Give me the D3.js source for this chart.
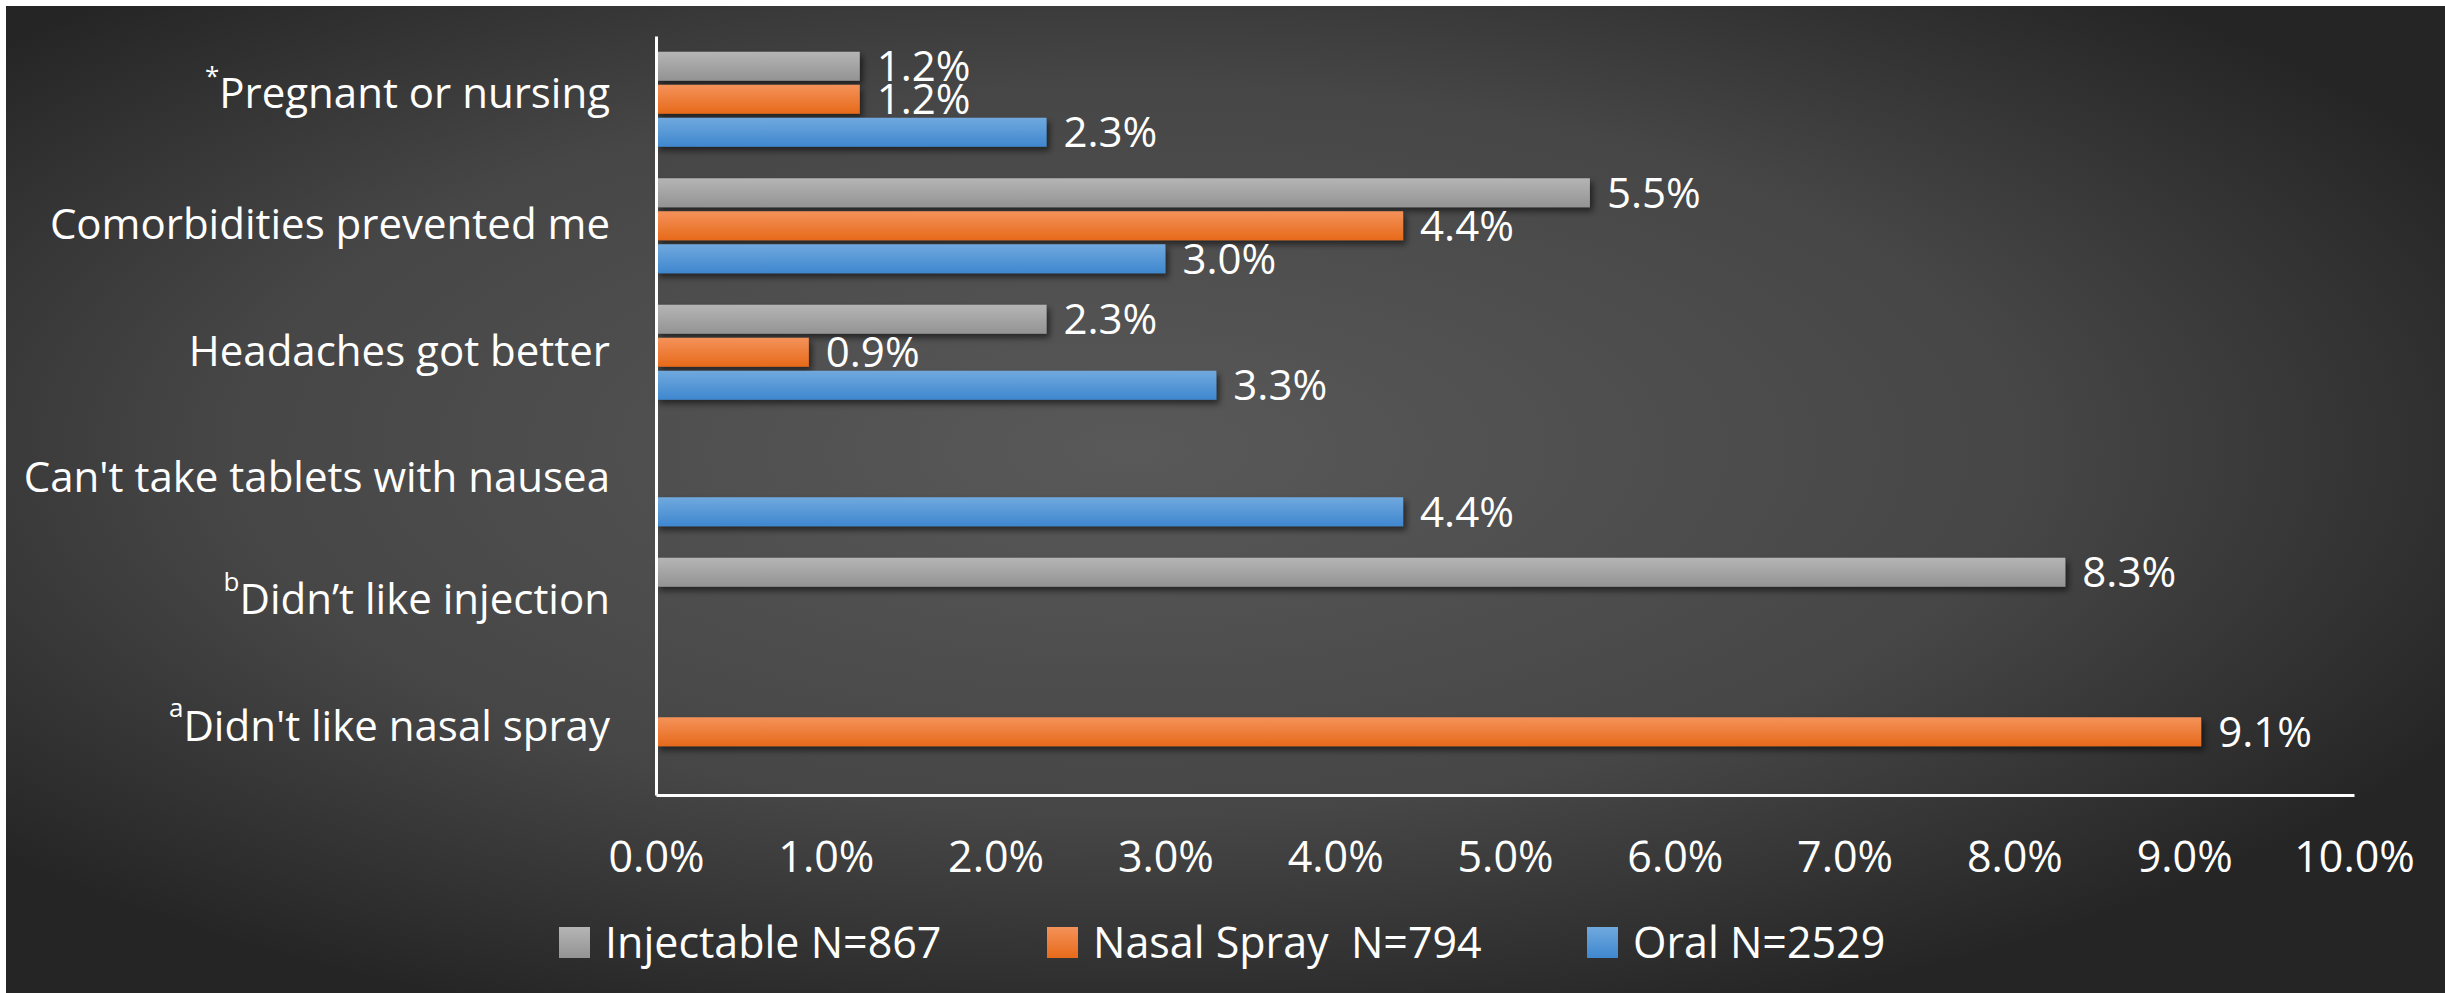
<!DOCTYPE html>
<html>
<head>
<meta charset="utf-8">
<script src="https://cdn.jsdelivr.net/npm/d3@7"></script>
<style>
  html, body { margin: 0; padding: 0; background: #fff; }
  svg { display: block; }
  text { font-family: "Open Sans", sans-serif; fill: #fff; }
</style>
</head>
<body>
<div id="chart"></div>
<script>
// categories from top to bottom, with their footnote marks
const categories = [
  "Pregnant or nursing",
  "Comorbidities prevented me",
  "Headaches got better",
  "Can't take tablets with nausea",
  "Didn\u2019t like injection",
  "Didn't like nasal spray"
];
const footnotes = ["*", "", "", "", "b", "a"];

const seriesNames = ["Injectable N=867", "Nasal Spray  N=794", "Oral N=2529"];

// percent values per category (null = no bar)
const injectable = [0.012, 0.055, 0.023, null, 0.083, null];
const nasalSpray = [0.012, 0.044, 0.009, null, null, 0.091];
const oral       = [0.023, 0.030, 0.033, 0.044, null, null];

const xTicks = [0, 0.01, 0.02, 0.03, 0.04, 0.05, 0.06, 0.07, 0.08, 0.09, 0.10];

const W = 2445, H = 993;
const plot = { left: 656, right: 2354, top: 36, bottom: 795 };
const legendLeft = [559, 1047, 1587];

const svg = d3.select("#chart").append("svg")
  .attr("width", W)
  .attr("height", H);

const defs = svg.append("defs");

// dark radial background
const bg = defs.append("radialGradient")
  .attr("id", "bg")
  .attr("cx", 0.46).attr("cy", 0.45).attr("r", 0.62);
bg.append("stop").attr("offset", "0%").attr("stop-color", "#595959");
bg.append("stop").attr("offset", "60%").attr("stop-color", "#464646");
bg.append("stop").attr("offset", "100%").attr("stop-color", "#252525");

const colors = [
  { id: "gGrey", top: "#b5b5b5", bottom: "#939393" },
  { id: "gOrange", top: "#f4925a", bottom: "#e76a1a" },
  { id: "gBlue", top: "#70a9de", bottom: "#3f87cf" }
];
colors.forEach(c => {
  const g = defs.append("linearGradient")
    .attr("id", c.id)
    .attr("x1", 0).attr("y1", 0).attr("x2", 0).attr("y2", 1);
  g.append("stop").attr("offset", "0%").attr("stop-color", c.top);
  g.append("stop").attr("offset", "100%").attr("stop-color", c.bottom);
});

const shadow = defs.append("filter")
  .attr("id", "shadow")
  .attr("x", "-5%").attr("y", "-30%").attr("width", "110%").attr("height", "180%");
shadow.append("feDropShadow")
  .attr("dx", 3).attr("dy", 4)
  .attr("stdDeviation", 3)
  .attr("flood-color", "#000")
  .attr("flood-opacity", 0.55);

svg.append("rect")
  .attr("x", 6).attr("y", 6)
  .attr("width", W - 6).attr("height", H - 6)
  .attr("fill", "url(#bg)");

// scales
const x = d3.scaleLinear()
  .domain([0, 0.10])
  .range([plot.left, plot.right]);

const y = d3.scaleBand()
  .domain(categories)
  .range([plot.top, plot.bottom]);

const sub = d3.scaleBand()
  .domain(seriesNames)
  .range([0, 95])
  .paddingInner(4 / 33);

const seriesValues = [injectable, nasalSpray, oral];
const rows = [];
seriesNames.forEach((s, si) => {
  categories.forEach((c, ci) => {
    const v = seriesValues[si][ci];
    if (v != null) rows.push({ series: s, si: si, category: c, value: v });
  });
});

const groupTop = c => y(c) + y.bandwidth() / 2 - 47.5;

// bars
svg.append("g")
  .selectAll("rect")
  .data(rows)
  .enter()
  .append("rect")
  .attr("x", x(0))
  .attr("y", d => groupTop(d.category) + sub(d.series))
  .attr("width", d => x(d.value) - x(0))
  .attr("height", sub.bandwidth())
  .attr("fill", d => "url(#" + colors[d.si].id + ")")
  .attr("filter", "url(#shadow)");

// value labels
svg.append("g")
  .selectAll("text")
  .data(rows)
  .enter()
  .append("text")
  .attr("x", d => x(d.value) + 17)
  .attr("y", d => groupTop(d.category) + sub(d.series) + sub.bandwidth() / 2)
  .attr("dy", "0.36em")
  .style("font-size", "42px")
  .text(d => d3.format(".1%")(d.value));

// x axis
const xAxis = svg.append("g")
  .attr("transform", `translate(0,${plot.bottom})`)
  .call(d3.axisBottom(x).tickValues(xTicks).tickFormat(d3.format(".1%")).tickSize(0).tickPadding(48));
xAxis.select(".domain").attr("stroke", "#fff").attr("stroke-width", 3);
xAxis.selectAll("text")
  .style("font-size", "43px")
  .attr("fill", "#fff")
  .attr("dy", "0.36em")
  .attr("y", 62);

// y axis
const yAxis = svg.append("g")
  .attr("transform", `translate(${plot.left},0)`)
  .call(d3.axisLeft(y).tickSize(0).tickSizeOuter(0).tickPadding(46));
yAxis.select(".domain").attr("stroke", "#fff").attr("stroke-width", 3);
yAxis.selectAll("text")
  .style("font-size", "42px")
  .attr("fill", "#fff")
  .each(function (d, i) {
    const t = d3.select(this);
    t.text(null);
    const mark = footnotes[categories.indexOf(d)];
    if (mark) {
      t.append("tspan")
        .attr("dy", "-0.55em")
        .style("font-size", "26px")
        .text(mark);
      t.append("tspan")
        .attr("dy", "0.55em")
        .text(d);
    } else {
      t.append("tspan").text(d);
    }
  });

// legend
const items = svg.append("g")
  .selectAll("g")
  .data(seriesNames)
  .enter()
  .append("g")
  .attr("transform", (d, i) => `translate(${legendLeft[i]},0)`);
items.append("rect")
  .attr("width", 31).attr("height", 31)
  .attr("y", 927)
  .attr("fill", (d, i) => "url(#" + colors[i].id + ")");
items.append("text")
  .attr("x", 46)
  .attr("y", 942.5)
  .attr("dy", "0.36em")
  .style("font-size", "43px")
  .style("white-space", "pre")
  .text(d => d);
</script>
</body>
</html>
